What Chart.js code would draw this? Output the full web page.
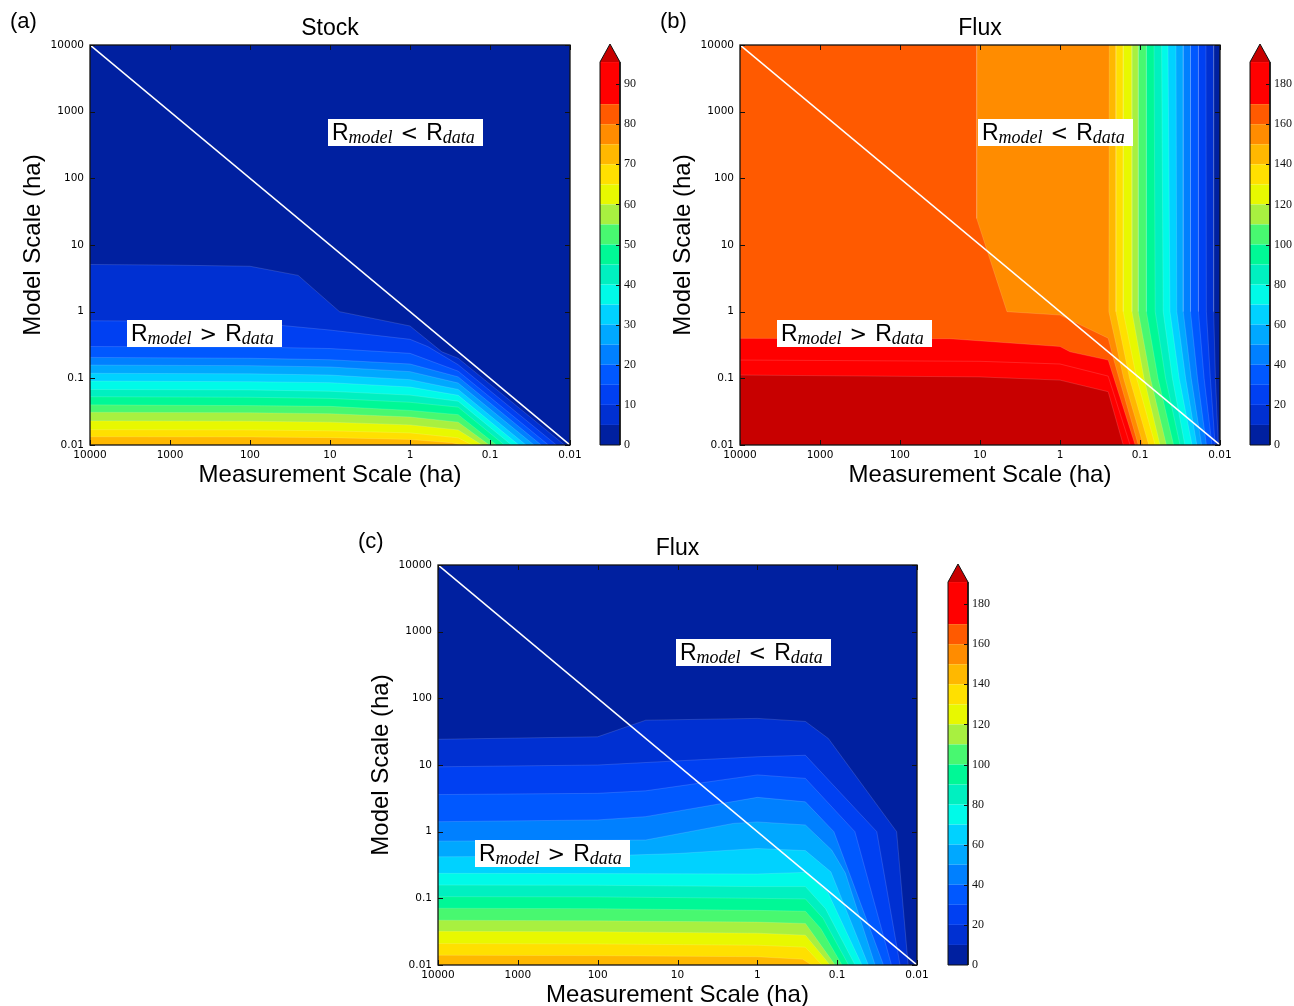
<!DOCTYPE html>
<html>
<head>
<meta charset="utf-8">
<title>Stock and flux: model scale vs measurement scale</title>
<script src="https://cdn.jsdelivr.net/npm/chart.js@4.4.1/dist/chart.umd.min.js"></script>
<style>
  body { margin: 0; background: #fff; }
  #page { position: relative; width: 1294px; height: 1006px; overflow: hidden; }
  canvas { position: absolute; }
</style>
</head>
<body>
<div id="page">
  <canvas id="stockPlot" width="598" height="500" style="left:0px;top:0px"></canvas>
  <canvas id="stockBar" width="62" height="460" style="left:598px;top:0px"></canvas>
  <canvas id="fluxPlot" width="598" height="500" style="left:650px;top:0px"></canvas>
  <canvas id="fluxBar" width="46" height="460" style="left:1248px;top:0px"></canvas>
  <canvas id="flux2Plot" width="590" height="500" style="left:348px;top:520px"></canvas>
  <canvas id="flux2Bar" width="62" height="460" style="left:946px;top:520px"></canvas>
</div>
<script>
// axis ticks (both axes are log, measurement scale runs backwards)
const xTickVals = [10000, 1000, 100, 10, 1, 0.1, 0.01];
const xTickText = ['10000', '1000', '100', '10', '1', '0.1', '0.01'];
const yTickVals = [0.01, 0.1, 1, 10, 100, 1000, 10000];
const yTickText = ['0.01', '0.1', '1', '10', '100', '1000', '10000'];

// colour bands, bottom of the colour bar to the top
const bandColors = ['#0020a0', '#0030d2', '#0040f2', '#0058ff', '#0080ff', '#00a8ff', '#00d2ff',
  '#00fae8', '#00f0c0', '#00f896', '#48f870', '#a8f040', '#e8f800', '#ffe000', '#ffb800',
  '#ff8c00', '#ff5a00', '#ff0000'];
const overColor = '#c80000';

// colour bars
const stockBarEdges = [0, 5, 10, 15, 20, 25, 30, 35, 40, 45, 50, 55, 60, 65, 70, 75, 80, 85, 95.5];
const stockBarTicks = [0, 10, 20, 30, 40, 50, 60, 70, 80, 90];
const fluxBarEdges = [0, 10, 20, 30, 40, 50, 60, 70, 80, 90, 100, 110, 120, 130, 140, 150, 160, 170, 191];
const fluxBarTicks = [0, 20, 40, 60, 80, 100, 120, 140, 160, 180];

// (a) Stock: contour lines [measurement scale, model scale]
const stockLevels = [5, 10, 15, 20, 25, 30, 35, 40, 45, 50, 55, 60, 65, 70];
const stockL05 = [[10000, 5.1], [1000, 5.0], [100, 4.8], [25, 3.5], [7.6, 1.0], [1, 0.61], [0.4, 0.25], [0.25, 0.2], [0.0117, 0.01]];
const stockL10 = [[10000, 0.73], [1000, 0.72], [100, 0.69], [10, 0.53], [1, 0.385], [0.6, 0.3], [0.25, 0.16], [0.0148, 0.01]];
const stockL15 = [[10000, 0.30], [100, 0.295], [10, 0.28], [1, 0.237], [0.25, 0.128], [0.0186, 0.01]];
const stockL20 = [[10000, 0.206], [100, 0.2], [10, 0.19], [1, 0.164], [0.25, 0.105], [0.0229, 0.01]];
const stockL25 = [[10000, 0.158], [100, 0.155], [10, 0.148], [1, 0.126], [0.25, 0.085], [0.0282, 0.01]];
const stockL30 = [[10000, 0.119], [100, 0.117], [10, 0.112], [1, 0.0955], [0.25, 0.068], [0.0355, 0.01]];
const stockL35 = [[10000, 0.091], [100, 0.089], [10, 0.086], [1, 0.074], [0.25, 0.0556], [0.0437, 0.01]];
const stockL40 = [[10000, 0.068], [100, 0.067], [10, 0.064], [1, 0.056], [0.25, 0.0454], [0.0537, 0.01]];
const stockL45 = [[10000, 0.053], [100, 0.052], [10, 0.05], [1, 0.0437], [0.25, 0.037], [0.066, 0.01]];
const stockL50 = [[10000, 0.040], [100, 0.039], [10, 0.038], [1, 0.033], [0.25, 0.0285], [0.083, 0.01]];
const stockL55 = [[10000, 0.031], [100, 0.0305], [10, 0.0295], [1, 0.0263], [0.25, 0.022], [0.102, 0.01]];
const stockL60 = [[10000, 0.023], [100, 0.0227], [10, 0.022], [1, 0.020], [0.25, 0.0168], [0.126, 0.01]];
const stockL65 = [[10000, 0.017], [100, 0.0168], [10, 0.0163], [1, 0.0152], [0.25, 0.0128], [0.166, 0.01]];
const stockL70 = [[10000, 0.0133], [100, 0.0132], [10, 0.0129], [1, 0.0121], [0.3, 0.0108], [0.229, 0.01]];
const stockContours = [stockL05, stockL10, stockL15, stockL20, stockL25, stockL30, stockL35,
  stockL40, stockL45, stockL50, stockL55, stockL60, stockL65, stockL70];

// (b) Flux: contour lines, read top to bottom
const fluxLevels = [10, 20, 30, 40, 50, 60, 70, 80, 90, 100, 110, 120, 130, 140, 150, 160, 170, 180, 190];
const fluxL010 = [[0.012, 10000], [0.012, 1], [0.0114, 0.1], [0.0105, 0.01]];
const fluxL020 = [[0.015, 10000], [0.0148, 1], [0.0132, 0.1], [0.0115, 0.01]];
const fluxL030 = [[0.0186, 10000], [0.0186, 1], [0.0158, 0.1], [0.0126, 0.01]];
const fluxL040 = [[0.0234, 10000], [0.0234, 1], [0.0191, 0.1], [0.0148, 0.01]];
const fluxL050 = [[0.0288, 10000], [0.0288, 1], [0.0229, 0.1], [0.017, 0.01]];
const fluxL060 = [[0.0355, 10000], [0.0347, 1], [0.0269, 0.1], [0.0195, 0.01]];
const fluxL070 = [[0.0447, 10000], [0.0422, 1], [0.0324, 0.1], [0.0224, 0.01]];
const fluxL080 = [[0.0537, 10000], [0.0513, 1], [0.0394, 0.1], [0.0275, 0.01]];
const fluxL090 = [[0.0668, 10000], [0.0646, 1], [0.0479, 0.1], [0.0316, 0.01]];
const fluxL100 = [[0.0832, 10000], [0.0832, 1], [0.0596, 0.1], [0.038, 0.01]];
const fluxL110 = [[0.105, 10000], [0.105, 1], [0.0741, 0.1], [0.0468, 0.01]];
const fluxL120 = [[0.127, 10000], [0.126, 1], [0.0891, 0.1], [0.0562, 0.01]];
const fluxL130 = [[0.162, 10000], [0.162, 1], [0.11, 0.1], [0.0646, 0.01]];
const fluxL140 = [[0.2, 10000], [0.2, 1], [0.135, 0.1], [0.0776, 0.01]];
const fluxL150 = [[0.242, 10000], [0.245, 1], [0.16, 0.1], [0.0912, 0.01]];
const fluxL160 = [[11, 10000], [11, 25], [4.6, 1], [1, 0.89], [0.25, 0.4], [0.21, 0.18], [0.105, 0.01]];
const fluxL170 = [[10000, 0.398], [24, 0.393], [1, 0.3], [0.75, 0.25], [0.25, 0.188], [0.115, 0.01]];
const fluxL180 = [[10000, 0.188], [10, 0.18], [1, 0.164], [0.25, 0.108], [0.133, 0.01]];
const fluxL190 = [[10000, 0.112], [10, 0.105], [1, 0.094], [0.25, 0.063], [0.162, 0.01]];
const fluxContours = [fluxL010, fluxL020, fluxL030, fluxL040, fluxL050, fluxL060, fluxL070,
  fluxL080, fluxL090, fluxL100, fluxL110, fluxL120, fluxL130, fluxL140, fluxL150, fluxL160,
  fluxL170, fluxL180, fluxL190];

// (c) Flux: contour lines
const flux2Levels = [10, 20, 30, 40, 50, 60, 70, 80, 90, 100, 110, 120, 130, 140];
const flux2L010 = [[10000, 24.3], [100, 26.5], [25, 47], [1, 50], [0.25, 45], [0.129, 25], [0.018, 1.0], [0.0129, 0.01]];
const flux2L020 = [[10000, 9.4], [100, 10], [1, 13.3], [0.25, 14], [0.0319, 1.0], [0.0163, 0.01]];
const flux2L030 = [[10000, 3.6], [100, 3.76], [25, 4.1], [1, 7.1], [0.25, 6.3], [0.06, 1.0], [0.0209, 0.01]];
const flux2L040 = [[10000, 1.41], [100, 1.5], [25, 1.68], [1, 3.27], [0.25, 2.8], [0.11, 1.0], [0.0263, 0.01]];
const flux2L050 = [[10000, 0.72], [25, 0.75], [2, 1.33], [1, 1.4], [0.25, 1.26], [0.117, 0.53], [0.079, 0.24], [0.0335, 0.01]];
const flux2L060 = [[10000, 0.42], [100, 0.43], [10, 0.47], [1, 0.56], [0.25, 0.52], [0.12, 0.25], [0.0407, 0.01]];
const flux2L070 = [[10000, 0.237], [100, 0.235], [1, 0.232], [0.25, 0.245], [0.13, 0.12], [0.049, 0.01]];
const flux2L080 = [[10000, 0.158], [100, 0.157], [1, 0.15], [0.25, 0.15], [0.14, 0.07], [0.0596, 0.01]];
const flux2L090 = [[10000, 0.106], [100, 0.105], [1, 0.1], [0.25, 0.098], [0.15, 0.05], [0.072, 0.01]];
const flux2L100 = [[10000, 0.071], [100, 0.07], [1, 0.066], [0.25, 0.064], [0.16, 0.035], [0.087, 0.01]];
const flux2L110 = [[10000, 0.047], [100, 0.046], [1, 0.044], [0.25, 0.042], [0.106, 0.01]];
const flux2L120 = [[10000, 0.032], [100, 0.0315], [1, 0.03], [0.25, 0.028], [0.123, 0.01]];
const flux2L130 = [[10000, 0.021], [100, 0.0207], [1, 0.0198], [0.25, 0.0185], [0.155, 0.01]];
const flux2L140 = [[10000, 0.014], [100, 0.0138], [1, 0.0133], [0.27, 0.0122], [0.209, 0.01]];
const flux2Contours = [flux2L010, flux2L020, flux2L030, flux2L040, flux2L050, flux2L060, flux2L070,
  flux2L080, flux2L090, flux2L100, flux2L110, flux2L120, flux2L130, flux2L140];

function tickText(v, vals, texts) {
  const i = vals.findIndex(t => Math.abs(Math.log10(t) - Math.log10(v)) < 1e-6);
  return i < 0 ? '' : texts[i];
}

// white box with R_model < R_data
function rBox(ctx, left, top, rel) {
  const parts = [
    ['R', '23px "Liberation Sans"', 21, 0],
    ['model', 'italic 18px "Liberation Serif"', 24, 0],
    [rel, '21px "DejaVu Sans"', 21, 8],
    ['R', '23px "Liberation Sans"', 21, 0],
    ['data', 'italic 18px "Liberation Serif"', 24, 0]
  ];
  ctx.fillStyle = '#fff';
  ctx.fillRect(left, top, 155, 27);
  ctx.fillStyle = '#000';
  ctx.textAlign = 'left';
  ctx.textBaseline = 'alphabetic';
  let cx = left + 4;
  parts.forEach(([t, f, dy, gap]) => {
    ctx.font = f;
    cx += gap;
    ctx.fillText(t, cx, top + dy);
    cx += ctx.measureText(t).width + gap;
  });
}

function panelDecor(title, tag) {
  return {
    id: 'panelDecor',
    afterDatasetsDraw(chart) {
      const {ctx, chartArea: a, scales} = chart;
      ctx.save();
      ctx.strokeStyle = '#111';
      ctx.lineWidth = 1;
      ctx.beginPath();
      xTickVals.forEach(v => {
        const px = Math.round(scales.x.getPixelForValue(v)) + 0.5;
        ctx.moveTo(px, a.top); ctx.lineTo(px, a.top + 5);
        ctx.moveTo(px, a.bottom); ctx.lineTo(px, a.bottom - 5);
      });
      yTickVals.forEach(v => {
        const py = Math.round(scales.y.getPixelForValue(v)) + 0.5;
        ctx.moveTo(a.left, py); ctx.lineTo(a.left + 5, py);
        ctx.moveTo(a.right, py); ctx.lineTo(a.right - 5, py);
      });
      ctx.stroke();
      ctx.lineWidth = 1.3;
      ctx.strokeRect(a.left, a.top, a.right - a.left, a.bottom - a.top);

      rBox(ctx, a.left + 238, a.top + 74, '<');
      rBox(ctx, a.left + 37, a.top + 275, '>');

      ctx.fillStyle = '#000';
      ctx.textBaseline = 'alphabetic';
      ctx.textAlign = 'center';
      ctx.font = '23px "Liberation Sans"';
      ctx.fillText(title, (a.left + a.right) / 2, 35);
      ctx.textAlign = 'left';
      ctx.font = '22px "Liberation Sans"';
      ctx.fillText(tag, 10, 28);
      ctx.restore();
    }
  };
}

function makePlot(canvasId, contours, levels, colorOf, axis, rightPad, title, tag) {
  const fillTo = axis === 'y' ? {value: 10000} : {value: 0.01};
  const datasets = [{
    data: axis === 'y' ? [{x: 0.01, y: 10000}, {x: 0.01, y: 0.01}] : [{x: 10000, y: 10000}, {x: 0.01, y: 10000}],
    backgroundColor: bandColors[0],
    borderWidth: 0,
    fill: fillTo,
    pointRadius: 0,
    order: 0
  }];
  contours.forEach((pts, i) => {
    datasets.push({
      data: pts.map(p => ({x: p[0], y: p[1]})),
      backgroundColor: colorOf(levels[i]),
      borderColor: 'rgba(255,255,255,0.2)',
      borderWidth: 0.7,
      fill: fillTo,
      pointRadius: 0,
      order: -(i + 1)
    });
  });
  // 1:1 line
  datasets.push({
    data: [{x: 10000, y: 10000}, {x: 0.01, y: 0.01}],
    borderColor: '#fff',
    borderWidth: 1.6,
    fill: false,
    pointRadius: 0,
    order: -100
  });

  return new Chart(document.getElementById(canvasId), {
    type: 'line',
    data: {datasets},
    options: {
      indexAxis: axis,
      responsive: false,
      animation: false,
      events: [],
      devicePixelRatio: 1,
      layout: {padding: {left: 0, right: rightPad, top: 45, bottom: 0}},
      plugins: {legend: {display: false}, tooltip: {enabled: false}},
      scales: {
        x: {
          type: 'logarithmic',
          reverse: true,
          min: 0.01,
          max: 10000,
          position: 'bottom',
          afterBuildTicks: s => { s.ticks = xTickVals.map(v => ({value: v})); },
          afterFit: s => { s.height = 55; s.paddingLeft = 0; s.paddingRight = 0; },
          grid: {display: false, drawTicks: false},
          border: {display: false},
          ticks: {
            autoSkip: false, maxRotation: 0, padding: 4, color: '#000',
            font: {family: 'DejaVu Sans', size: 10.5},
            callback: v => tickText(v, xTickVals, xTickText)
          },
          title: {
            display: true, text: 'Measurement Scale (ha)', color: '#000',
            font: {family: 'Liberation Sans', size: 24}, padding: {top: 0, bottom: 10}
          }
        },
        y: {
          type: 'logarithmic',
          min: 0.01,
          max: 10000,
          position: 'left',
          afterBuildTicks: s => { s.ticks = yTickVals.map(v => ({value: v})); },
          afterFit: s => { s.width = 90; s.paddingTop = 0; s.paddingBottom = 0; },
          grid: {display: false, drawTicks: false},
          border: {display: false},
          ticks: {
            autoSkip: false, padding: 6, color: '#000',
            font: {family: 'DejaVu Sans', size: 10.5},
            callback: v => tickText(v, yTickVals, yTickText)
          },
          title: {
            display: true, text: 'Model Scale (ha)', color: '#000',
            font: {family: 'Liberation Sans', size: 24}, padding: {top: 19, bottom: 0}
          }
        }
      }
    },
    plugins: [panelDecor(title, tag)]
  });
}

function makeBar(canvasId, edges, tip, ticks) {
  const datasets = [];
  edges.slice(0, -1).forEach((lo, i) => {
    const hi = edges[i + 1];
    datasets.push({
      data: [{x: 0, y: hi}, {x: 1, y: hi}],
      fill: {value: lo},
      backgroundColor: bandColors[i],
      borderWidth: 0,
      pointRadius: 0
    });
  });
  const top = edges[edges.length - 1];
  datasets.push({
    data: [{x: 0, y: top}, {x: 0.5, y: tip}, {x: 1, y: top}],
    fill: {value: top},
    backgroundColor: overColor,
    borderWidth: 0,
    pointRadius: 0
  });
  datasets.push({
    data: [{x: 0, y: 0}, {x: 0, y: top}, {x: 0.5, y: tip}, {x: 1, y: top}, {x: 1, y: 0}, {x: 0, y: 0}],
    fill: false,
    borderColor: '#111',
    borderWidth: 1,
    pointRadius: 0,
    clip: 3,
    order: -1
  });

  return new Chart(document.getElementById(canvasId), {
    type: 'line',
    data: {datasets},
    options: {
      responsive: false,
      animation: false,
      events: [],
      devicePixelRatio: 1,
      layout: {padding: {left: 2, right: 0, top: 44, bottom: 15}},
      plugins: {legend: {display: false}, tooltip: {enabled: false}},
      scales: {
        x: {type: 'linear', min: 0, max: 1, display: false},
        y: {
          type: 'linear',
          min: 0,
          max: tip,
          position: 'right',
          afterBuildTicks: s => { s.ticks = ticks.map(v => ({value: v})); },
          // bar is 20px wide, the rest of the canvas is the label column
          afterFit: s => { s.width = s.chart.width - 22; s.paddingTop = 0; s.paddingBottom = 0; },
          grid: {display: false, drawTicks: false},
          border: {display: false},
          ticks: {padding: 4, color: '#111', font: {family: 'Liberation Serif', size: 12}}
        }
      }
    },
    plugins: [{
      id: 'barTicks',
      afterDatasetsDraw(chart) {
        const {ctx, chartArea: a, scales: {y}} = chart;
        ctx.save();
        ctx.strokeStyle = '#111';
        ctx.lineWidth = 1;
        ctx.beginPath();
        ticks.forEach(v => {
          if (v === 0) return;
          const py = Math.round(y.getPixelForValue(v)) + 0.5;
          ctx.moveTo(a.right - 4, py);
          ctx.lineTo(a.right, py);
        });
        ctx.stroke();
        ctx.restore();
      }
    }]
  });
}

makePlot('stockPlot', stockContours, stockLevels, lv => bandColors[lv / 5], 'x', 28, 'Stock', '(a)');
makeBar('stockBar', stockBarEdges, 100, stockBarTicks);

makePlot('fluxPlot', fluxContours, fluxLevels,
  lv => (lv >= 190 ? overColor : bandColors[Math.min(lv / 10, 17)]), 'y', 28, 'Flux', '(b)');
makeBar('fluxBar', fluxBarEdges, 200, fluxBarTicks);

makePlot('flux2Plot', flux2Contours, flux2Levels, lv => bandColors[lv / 10], 'x', 21, 'Flux', '(c)');
makeBar('flux2Bar', fluxBarEdges, 200, fluxBarTicks);
</script>
</body>
</html>
